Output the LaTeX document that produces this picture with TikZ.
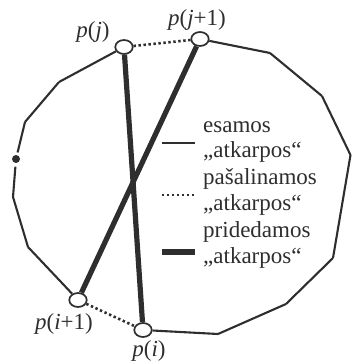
\documentclass[tikz,border=0pt]{standalone}
\usepackage{fontspec}
\setmainfont{Liberation Serif}
\usetikzlibrary{shapes.geometric}
\definecolor{ink}{HTML}{2E2E2E}
\begin{document}
\begin{tikzpicture}[x=1bp,y=-1bp,
  edge/.style={line width=2.1bp, draw=ink},
  thickedge/.style={line width=5.2bp, draw=ink},
  dotedge/.style={line width=2.6bp, draw=ink, dash pattern=on 2.4bp off 2.6bp},
  vertex/.style={ellipse, draw=ink, line width=1.7bp, fill=white, minimum width=17.5bp, minimum height=14bp, inner sep=0pt},
  blob/.style={circle, fill=ink, minimum size=8bp, inner sep=0pt},
  lbl/.style={font=\fontsize{23bp}{26bp}\selectfont, text=ink, inner sep=0pt},
]
\useasboundingbox (0,0) rectangle (352,362);

% key vertices
\node[vertex] (pj)  at (124,47) {};
\node[vertex] (pj1) at (200,39) {};
\node[vertex] (pi1) at (78,300) {};
\node[vertex] (pi)  at (143,330) {};
\node[blob] (dot) at (16,159) {};

% polygon corners
\coordinate (r1) at (270,53);
\coordinate (r2) at (322,96);
\coordinate (r3) at (350.5,155);
\coordinate (r4) at (333,258);
\coordinate (r5) at (286,304);
\coordinate (r6) at (218,334);
\coordinate (l1) at (59,82);
\coordinate (l2) at (25,122);
\coordinate (l3) at (13,197);
\coordinate (l4) at (28,247);

% existing edges
\draw[edge] (pj1) -- (r1);
\draw[edge] (r1) -- (r2);
\draw[edge] (r2) -- (r3);
\draw[edge] (r3) -- (r4);
\draw[edge] (r4) -- (r5);
\draw[edge] (r5) -- (r6);
\draw[edge] (r6) -- (pi);
\draw[edge] (pj) -- (l1);
\draw[edge] (l1) -- (l2);
\draw[edge, shorten >=2.5bp] (l2) -- (dot);
\draw[edge, shorten <=3.5bp] (dot) -- (l3);
\draw[edge] (l3) -- (l4);
\draw[edge] (l4) -- (pi1);

% removed edges
\draw[dotedge] (pj) -- (pj1);
\draw[dotedge] (pi1) -- (pi);

% added edges
\draw[thickedge] (pj) -- (pi);
\draw[thickedge] (pj1) -- (pi1);

% vertex labels
\node[lbl, anchor=base] (tj)  at (93,37)  {\textit{p}(\textit{j})};
\node[lbl, anchor=base] (tj1) at (197,25) {\textit{p}(\textit{j}+1)};
\node[lbl, anchor=base] (ti1) at (64,329) {\textit{p}(\textit{i}+1)};
\node[lbl, anchor=base] (ti)  at (149,356) {\textit{p}(\textit{i})};

% legend
\coordinate (ga) at (162,143); \coordinate (gb) at (195,143);
\coordinate (ha) at (162,195); \coordinate (hb) at (195,195);
\coordinate (ka) at (162,252); \coordinate (kb) at (195,252);
\draw[edge] (ga) -- (gb);
\draw[dotedge] (ha) -- (hb);
\draw[thickedge] (ka) -- (kb);

\node[lbl, anchor=base west] (e1) at (203,132) {esamos};
\node[lbl, anchor=base west] (e2) at (203,157) {„atkarpos“};
\node[lbl, anchor=base west] (e3) at (203,184) {pašalinamos};
\node[lbl, anchor=base west] (e4) at (203,210) {„atkarpos“};
\node[lbl, anchor=base west] (e5) at (203,237) {pridedamos};
\node[lbl, anchor=base west] (e6) at (203,263) {„atkarpos“};
\end{tikzpicture}
\end{document}
